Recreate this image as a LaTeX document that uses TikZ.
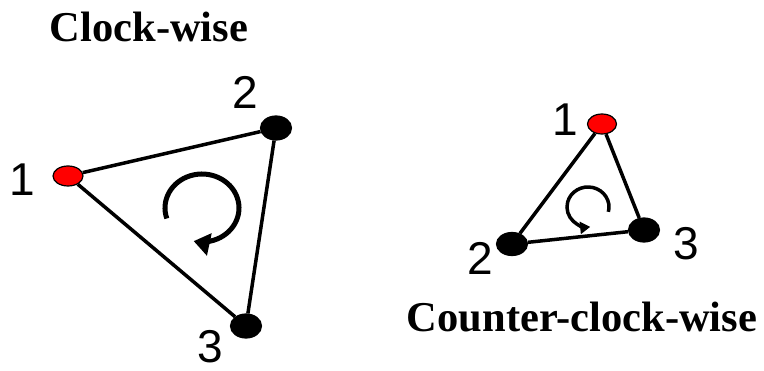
\documentclass[tikz,border=0pt]{standalone}
\usepackage{fontspec}
\setmainfont{Liberation Serif}
\newfontfamily\digitfont{Liberation Sans}
\usetikzlibrary{arrows.meta,shapes.geometric}
\begin{document}
\begin{tikzpicture}[x=1pt,y=1pt,
  vtx/.style={ellipse,draw=black,line width=1.2pt,minimum width=31pt,minimum height=24pt,inner sep=0pt},
  redv/.style={vtx,fill=red,minimum width=30pt,minimum height=20pt},
  blkv/.style={vtx,fill=black},
  edge/.style={line width=3.5pt},
  num/.style={font=\digitfont\fontsize{46}{46}\selectfont,inner sep=0pt},
  ttl/.style={font=\bfseries\fontsize{42.5}{42.5}\selectfont,inner sep=0pt}]
\useasboundingbox (0,0) rectangle (764,370);
% left triangle (clock-wise)
\node[redv] (a1) at (68,194) {};
\node[blkv] (a2) at (276,242) {};
\node[blkv] (a3) at (246,44) {};
\draw[edge] (a1) -- (a2);
\draw[edge] (a2) -- (a3);
\draw[edge] (a3) -- (a1);
\node[num] (la1) at (22,190) {1};
\node[num] (la2) at (245,278) {2};
\node[num] (la3) at (210,23) {3};
\draw[line width=5pt,-{Triangle[length=16pt,width=22pt]}]
  (202,162) ++(198:37 and 34) arc[start angle=198,end angle=-103,x radius=37,y radius=34];
\node[ttl] (t1) at (149,343) {Clock-wise};
% right triangle (counter-clock-wise)
\node[redv,minimum width=29pt,minimum height=20pt] (b1) at (602,246) {};
\node[blkv,minimum height=23pt] (b2) at (512,126) {};
\node[blkv] (b3) at (644,140) {};
\draw[edge] (b1) -- (b2);
\draw[edge] (b2) -- (b3);
\draw[edge] (b3) -- (b1);
\node[num] (lb1) at (565,250) {1};
\node[num] (lb2) at (480,112) {2};
\node[num] (lb3) at (686,126) {3};
\draw[line width=3.5pt,-{Triangle[length=10pt,width=12pt]}]
  (588,163) ++(-14:21 and 20) arc[start angle=-14,end angle=276,x radius=21,y radius=20];
\node[ttl] (t2) at (582,53) {Counter-clock-wise};
\end{tikzpicture}
\end{document}
